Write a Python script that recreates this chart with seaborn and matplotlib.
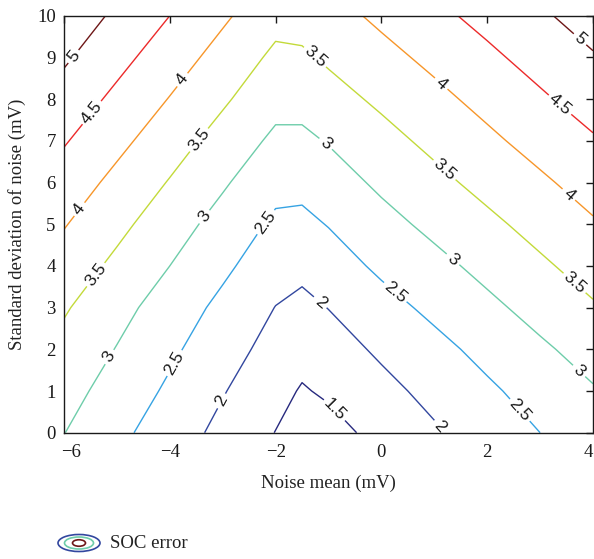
import numpy as np
import pandas as pd
import matplotlib
matplotlib.use("Agg")
import matplotlib.pyplot as plt
import matplotlib.transforms as mtransforms
import seaborn as sns
from matplotlib.patches import Ellipse

# ---- data ----
noise_mean = [-6, -5, -4, -3, -2, -1.5, -1, 0, 1, 2, 3, 4]          # mV
noise_std = [0, 1, 2, 3, 4, 5, 6, 7, 8, 9, 10]                      # mV
# rows: noise_std, columns: noise_mean
soc_error = [
    [3.01, 2.62, 2.25, 1.87, 1.49, 1.25, 1.33, 1.65, 1.94, 2.22, 2.50, 2.77],
    [3.18, 2.80, 2.42, 2.03, 1.65, 1.46, 1.57, 1.86, 2.14, 2.42, 2.69, 2.96],
    [3.36, 2.98, 2.59, 2.21, 1.82, 1.66, 1.79, 2.08, 2.36, 2.64, 2.92, 3.19],
    [3.55, 3.16, 2.77, 2.38, 1.99, 1.88, 2.01, 2.33, 2.61, 2.89, 3.17, 3.45],
    [3.79, 3.39, 3.00, 2.60, 2.20, 2.12, 2.28, 2.59, 2.86, 3.14, 3.42, 3.70],
    [4.03, 3.63, 3.22, 2.82, 2.41, 2.39, 2.52, 2.84, 3.12, 3.39, 3.67, 3.95],
    [4.28, 3.87, 3.47, 3.06, 2.65, 2.63, 2.78, 3.09, 3.37, 3.65, 3.92, 4.20],
    [4.54, 4.13, 3.72, 3.31, 2.90, 2.90, 3.03, 3.34, 3.62, 3.90, 4.18, 4.45],
    [4.80, 4.39, 3.98, 3.57, 3.16, 3.16, 3.32, 3.59, 3.87, 4.15, 4.43, 4.71],
    [5.07, 4.65, 4.24, 3.82, 3.40, 3.43, 3.57, 3.85, 4.12, 4.40, 4.68, 4.96],
    [5.33, 4.91, 4.50, 4.08, 3.66, 3.68, 3.82, 4.10, 4.38, 4.65, 4.93, 5.21],
]
levels = [1.5, 2, 2.5, 3, 3.5, 4, 4.5, 5]
level_colors = ["#27297e", "#32479f", "#36a3e3", "#6ecdaa",
                "#c3da3a", "#f7962a", "#ec2a2a", "#6e1717"]
x_ticks = [-6, -4, -2, 0, 2, 4]
y_ticks = [0, 1, 2, 3, 4, 5, 6, 7, 8, 9, 10]
x_label = "Noise mean (mV)"
y_label = "Standard deviation of noise (mV)"
legend_label = "SOC error"

# contour label anchor points (layout only)
label_spots = [
    (-5.85, 9.05), (3.8, 9.5),
    (-5.45, 7.65), (3.4, 7.9),
    (-5.70, 5.35), (-3.75, 8.45), (1.15, 8.4), (3.57, 5.75),
    (-5.41, 3.8), (-3.43, 7.0), (-1.26, 9.0), (1.26, 6.4), (3.70, 3.66),
    (-5.2, 1.86), (-3.37, 5.2), (-1.07, 6.9), (1.45, 4.3), (3.70, 1.43),
    (-3.94, 1.69), (-2.24, 5.1), (0.35, 3.5), (2.58, 0.5),
    (-3.05, 0.78), (-1.12, 3.18), (1.1, 0.14),
    (-0.88, 0.55),
]

sns.set_theme(style="white")
plt.rcParams["font.family"] = ["Liberation Serif", "DejaVu Serif"]

df = pd.DataFrame(soc_error, index=noise_std, columns=noise_mean)
X, Y = np.meshgrid(df.columns.values.astype(float), df.index.values.astype(float))

fig = plt.figure(figsize=(5.94, 5.59), dpi=100)
W, H = 594, 559
ax = fig.add_axes([64 / W, (H - 432.7) / H, (593 - 64) / W, (432.7 - 15.7) / H])

cs = ax.contour(X, Y, df.values, levels=levels, colors=level_colors, linewidths=1.0)
cl = ax.clabel(cs, fmt="%g", fontsize=12.5, colors="k", inline=True,
               inline_spacing=4, manual=label_spots)
for t in cl:
    t.set_fontfamily(["Liberation Sans", "DejaVu Sans"])

ax.set_xlim(-6, 4)
ax.set_ylim(0, 10)
ax.set_xticks(x_ticks)
ax.set_yticks(y_ticks)
ax.set_xticklabels([str(v).replace("-", "\u2212") for v in x_ticks])
ax.set_yticklabels([str(v) for v in y_ticks])
ax.tick_params(direction="in", length=5, width=1, top=True, right=True,
               labelsize=13.5, colors="k", pad=6)
ax.tick_params(axis="x", pad=8)
for s in ax.spines.values():
    s.set_visible(True)
    s.set_color("k")
    s.set_linewidth(1.0)
ax.set_xlabel(x_label, fontsize=13.5, color="#222222", labelpad=10)
ax.set_ylabel(y_label, fontsize=13.5, color="#222222", labelpad=8)
ax.grid(False)

# nudge the end tick labels inward, as in the reference
xlabels = ax.get_xticklabels()
xlabels[0].set_transform(xlabels[0].get_transform() +
                         mtransforms.ScaledTranslation(7 / 100, 0, fig.dpi_scale_trans))
xlabels[-1].set_transform(xlabels[-1].get_transform() +
                          mtransforms.ScaledTranslation(-5 / 100, 0, fig.dpi_scale_trans))

# legend: concentric ellipses icon + text
lax = fig.add_axes([54 / W, (H - 556) / H, 50 / W, 26 / H])
lax.set_xlim(0, 50)
lax.set_ylim(0, 26)
lax.axis("off")
cx, cy = 25, 13
lax.add_patch(Ellipse((cx, cy), 42, 17, fill=False, ec=level_colors[1], lw=1.2))
lax.add_patch(Ellipse((cx, cy), 29, 12, fill=False, ec=level_colors[3], lw=1.2))
lax.add_patch(Ellipse((cx, cy), 13, 6.5, fill=False, ec=level_colors[7], lw=1.2))
fig.text(110 / W, (H - 543) / H, legend_label, fontsize=13.5, color="#222222",
         va="center", ha="left")

fig.savefig("out.png", dpi=100)
